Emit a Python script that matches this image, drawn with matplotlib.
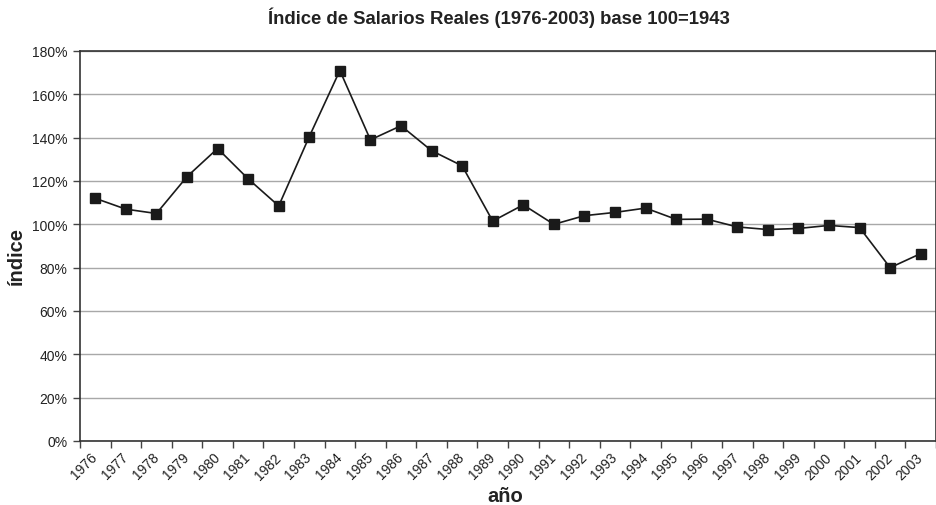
"""Real wage index line chart, 1976-2003."""
import matplotlib
matplotlib.use("Agg")
import matplotlib.pyplot as plt
import matplotlib.transforms as mtransforms
from matplotlib.ticker import FixedLocator, PercentFormatter

years = [str(y) for y in range(1976, 2004)]
indice = [112, 107, 105, 122, 135, 121, 108.5, 140.5, 171, 139, 145.5, 134,
          127, 101.5, 109, 100, 104, 105.5, 107.5, 102.3, 102.4, 98.8, 97.6,
          98.1, 99.5, 98.5, 80, 86.5]
y_ticks = [0, 20, 40, 60, 80, 100, 120, 140, 160, 180]

plt.rcParams["font.family"] = ["Liberation Sans", "DejaVu Sans"]

fig = plt.figure(figsize=(9.37, 5.06), dpi=100)
ax = fig.add_axes([80 / 937, 1 - 442 / 506, 856 / 937, 390 / 506])

x = list(range(len(years)))
ax.plot(x, indice, color="#1a1a1a", linewidth=1.2, marker="s",
        markersize=6.5, markerfacecolor="#1a1a1a", markeredgecolor="#1a1a1a",
        zorder=3)

ax.set_xlim(-0.5, len(years) - 0.5)
ax.set_ylim(0, 180)
ax.set_yticks(y_ticks)
ax.yaxis.set_major_formatter(PercentFormatter(decimals=0))
ax.grid(axis="y", color="#a8a8a8", linewidth=1.0)
ax.set_axisbelow(True)

# category labels near the points, tick marks on category boundaries
ax.set_xticks(x)
ax.set_xticklabels(years, rotation=45, ha="right", va="center",
                   rotation_mode="anchor", fontsize=10, color="#222222")
shift = mtransforms.ScaledTranslation(-9 / 100, -2 / 100, fig.dpi_scale_trans)
for lbl in ax.get_xticklabels():
    lbl.set_transform(lbl.get_transform() + shift)
ax.tick_params(axis="x", which="major", length=0, pad=10)
ax.xaxis.set_minor_locator(FixedLocator([i - 0.5 for i in range(len(years) + 1)]))
ax.tick_params(axis="x", which="minor", length=5, width=1, color="#444444",
               direction="out")
ax.tick_params(axis="y", length=5, width=1, color="#444444", labelsize=10,
               labelcolor="#222222", pad=4)

for side in ["left", "bottom", "top", "right"]:
    ax.spines[side].set_color("#333333")
    ax.spines[side].set_linewidth(1.2)

fig.text(499 / 937, 1 - 18 / 506, "Índice de Salarios Reales (1976-2003) base 100=1943",
         ha="center", va="center", fontsize=13.3, fontweight="bold", color="#222222")
fig.text(16 / 937, 1 - 256 / 506, "índice", rotation=90, ha="center",
         va="center", fontsize=14.5, fontweight="bold", color="#222222")
fig.text(505 / 937, 1 - 497 / 506, "año", ha="center", va="center",
         fontsize=14.5, fontweight="bold", color="#222222")

fig.savefig("out.png", dpi=100, facecolor="white")
plt.close(fig)
